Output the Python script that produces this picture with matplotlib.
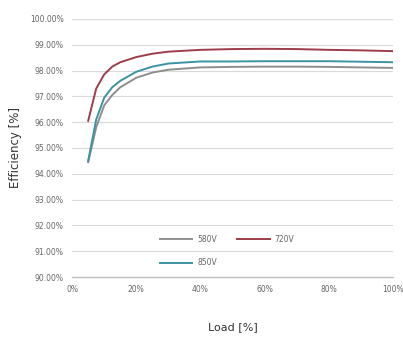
import matplotlib

matplotlib.use("Agg")
import matplotlib.pyplot as plt  # noqa: E402
from matplotlib.ticker import FuncFormatter  # noqa: E402

# load [%] and efficiency [%]
LOAD = [5, 7.5, 10, 12.5, 15, 20, 25, 30, 40, 50, 60, 70, 80, 90, 100]
EFF_580 = [94.45, 95.8, 96.65, 97.05, 97.35, 97.72, 97.92, 98.03, 98.12, 98.14, 98.15, 98.15, 98.14, 98.12, 98.1]
EFF_720 = [96.05, 97.3, 97.85, 98.15, 98.32, 98.52, 98.65, 98.73, 98.8, 98.83, 98.84, 98.83, 98.8, 98.78, 98.75]
EFF_850 = [94.5, 96.1, 96.95, 97.35, 97.6, 97.95, 98.15, 98.27, 98.35, 98.35, 98.36, 98.36, 98.36, 98.34, 98.32]

SERIES = [("580V", EFF_580, "#8e8e8e"), ("720V", EFF_720, "#9e3d4a"), ("850V", EFF_850, "#3b93a3")]

X_TICKS = [0, 20, 40, 60, 80, 100]
Y_TICKS = [90, 91, 92, 93, 94, 95, 96, 97, 98, 99, 100]

TICK_COLOR = "#666666"

fig = plt.figure(figsize=(4.03, 3.37), dpi=100)
ax = fig.add_axes([0.179, 0.178, 0.796, 0.766])

lines = {}
for label, eff, color in SERIES:
    (lines[label],) = ax.plot(LOAD, eff, color=color, linewidth=1.4, label=label)

ax.set_xlim(0, 100)
ax.set_ylim(90, 100)
ax.set_xticks(X_TICKS)
ax.set_yticks(Y_TICKS)
ax.xaxis.set_major_formatter(FuncFormatter(lambda v, _: f"{v:.0f}%"))
ax.yaxis.set_major_formatter(FuncFormatter(lambda v, _: f"{v:.2f}%"))
ax.tick_params(axis="both", length=0, labelsize=5.5, labelcolor=TICK_COLOR, pad=6)
ax.grid(True, axis="y", color="#d9d9d9", linewidth=0.8)
for side in ("top", "right", "left"):
    ax.spines[side].set_visible(False)
ax.spines["bottom"].set_color("#bfbfbf")
ax.spines["bottom"].set_linewidth(1.0)

ax.set_xlabel("Load [%]", fontsize=8, color="#333333", labelpad=20)
ax.set_ylabel("Efficiency [%]", fontsize=8.5, color="#333333", labelpad=6)

# legend fills column-first, so order 580V, 850V | 720V gives rows 580V 720V / 850V
order = ["580V", "850V", "720V"]
ax.legend(
    [lines[k] for k in order],
    order,
    loc="center",
    bbox_to_anchor=(0.483, 0.10),
    ncol=2,
    frameon=False,
    fontsize=5.5,
    handlelength=4.3,
    handletextpad=0.6,
    columnspacing=2.7,
    labelspacing=1.9,
    labelcolor=TICK_COLOR,
)

fig.savefig("out.png", dpi=100)
